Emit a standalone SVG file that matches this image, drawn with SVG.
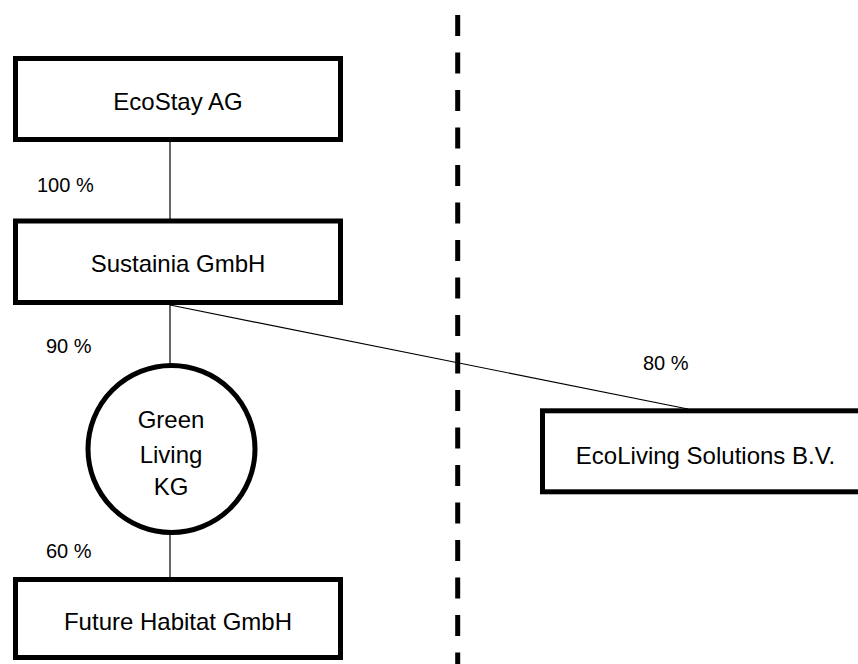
<svg xmlns="http://www.w3.org/2000/svg" width="858" height="664" viewBox="0 0 858 664">
<style>
.box{fill:#fff;stroke:#000;stroke-width:5}
.conn{stroke:#000;stroke-width:1.2;fill:none}
.lbl{font-family:"Liberation Sans",Arial,sans-serif;font-size:24px;fill:#000;text-anchor:middle}
.pct{font-family:"Liberation Sans",Arial,sans-serif;font-size:20px;fill:#000}
</style>
<rect width="858" height="664" fill="#fff"/>
<line x1="457.7" y1="15" x2="457.7" y2="664" stroke="#000" stroke-width="5" stroke-dasharray="21 16.5"/>
<g id="connectors">
<line class="conn" x1="170" y1="142" x2="170" y2="219"/>
<line class="conn" x1="170" y1="305" x2="170" y2="364"/>
<line class="conn" x1="170" y1="534" x2="170" y2="578"/>
<line class="conn" x1="170" y1="305" x2="688" y2="409"/>
</g>
<g id="ecostay">
<rect class="box" x="15.5" y="58.5" width="325" height="81"/>
<text class="lbl" x="178" y="110">EcoStay AG</text>
</g>
<g id="sustainia">
<rect class="box" x="15.5" y="221" width="325" height="81.5"/>
<text class="lbl" x="178" y="272">Sustainia GmbH</text>
</g>
<g id="greenliving">
<circle class="box" cx="171.5" cy="449" r="83.5"/>
<text class="lbl" x="171" y="428">Green</text>
<text class="lbl" x="171" y="463">Living</text>
<text class="lbl" x="171" y="495">KG</text>
</g>
<g id="futurehabitat">
<rect class="box" x="15.5" y="579.5" width="325" height="78"/>
<text class="lbl" x="178" y="630">Future Habitat GmbH</text>
</g>
<g id="ecoliving">
<rect class="box" x="542.5" y="410.8" width="330" height="81"/>
<text class="lbl" x="705.5" y="464">EcoLiving Solutions B.V.</text>
</g>
<g id="labels">
<text class="pct" x="37" y="192">100 %</text>
<text class="pct" x="46" y="353">90 %</text>
<text class="pct" x="46" y="558">60 %</text>
<text class="pct" x="643" y="370">80 %</text>
</g>
</svg>
